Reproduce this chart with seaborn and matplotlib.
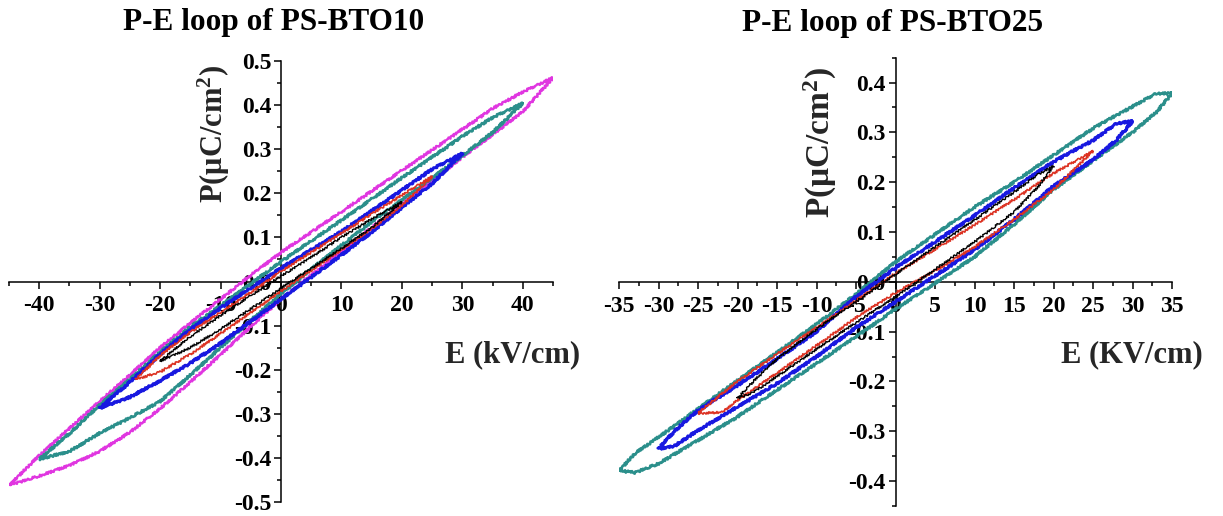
import matplotlib
matplotlib.use("Agg")
import matplotlib.pyplot as plt
import seaborn as sns
import pandas as pd
from matplotlib.ticker import MultipleLocator, FormatStrFormatter

# ---------------- data ----------------
# Left panel: PS-BTO10.  For each loop: E grid, upper branch P, lower branch P
L_MAG_E = [-45, -40, -35, -30, -25, -20, -15, -10, -5, 0, 5, 10, 15, 20, 25, 30, 35, 40, 45]
L_MAG_PU = [-0.462, -0.395, -0.333, -0.272, -0.212, -0.150, -0.094, -0.040, 0.014, 0.066,
            0.112, 0.158, 0.205, 0.252, 0.298, 0.345, 0.392, 0.430, 0.462]
L_MAG_PL = [-0.462, -0.441, -0.417, -0.385, -0.342, -0.288, -0.228, -0.166, -0.102, -0.040,
            0.014, 0.068, 0.122, 0.175, 0.228, 0.282, 0.333, 0.385, 0.462]

L_TEA_E = [-40, -35, -30, -25, -20, -15, -10, -5, 0, 5, 10, 15, 20, 25, 30, 35, 40]
L_TEA_PU = [-0.403, -0.345, -0.280, -0.222, -0.160, -0.103, -0.055, -0.005, 0.045,
            0.092, 0.139, 0.187, 0.235, 0.282, 0.329, 0.372, 0.404]
L_TEA_PL = [-0.403, -0.385, -0.344, -0.309, -0.272, -0.212, -0.150, -0.088, -0.028,
            0.028, 0.082, 0.135, 0.185, 0.235, 0.285, 0.338, 0.404]

L_BLU_E = [-30, -25, -20, -15, -10, -5, 0, 5, 10, 15, 20, 25, 30]
L_BLU_PU = [-0.287, -0.228, -0.165, -0.109, -0.060, -0.015, 0.030, 0.072, 0.113, 0.160, 0.207, 0.255, 0.290]
L_BLU_PL = [-0.287, -0.262, -0.225, -0.185, -0.140, -0.090, -0.040, 0.010, 0.060, 0.112, 0.168, 0.222, 0.290]

L_RED_E = [-24, -20, -15, -10, -5, 0, 5, 10, 15, 20, 25]
L_RED_PU = [-0.222, -0.168, -0.115, -0.070, -0.025, 0.023, 0.066, 0.109, 0.153, 0.196, 0.238]
L_RED_PL = [-0.222, -0.205, -0.165, -0.118, -0.070, -0.022, 0.025, 0.072, 0.120, 0.172, 0.238]

L_BLK_E = [-20, -15, -10, -5, 0, 5, 10, 15, 20]
L_BLK_PU = [-0.181, -0.125, -0.077, -0.032, 0.012, 0.055, 0.100, 0.142, 0.180]
L_BLK_PL = [-0.181, -0.150, -0.108, -0.062, -0.015, 0.030, 0.075, 0.122, 0.180]

# Right panel: PS-BTO25
R_TEA_E = [-35, -33, -30, -25, -20, -15, -10, -5, 0, 5, 10, 15, 20, 25, 30, 33, 35]
R_TEA_PU = [-0.379, -0.345, -0.312, -0.255, -0.198, -0.142, -0.085, -0.025, 0.040,
            0.095, 0.150, 0.200, 0.254, 0.308, 0.352, 0.378, 0.378]
R_TEA_PL = [-0.379, -0.383, -0.365, -0.318, -0.271, -0.217, -0.164, -0.110, -0.055,
            -0.003, 0.050, 0.115, 0.185, 0.243, 0.300, 0.340, 0.378]

R_BLU_E = [-30, -28, -25, -20, -15, -10, -5, 0, 5, 10, 15, 20, 25, 28, 30]
R_BLU_PU = [-0.335, -0.300, -0.258, -0.208, -0.155, -0.100, -0.030, 0.028, 0.080,
            0.133, 0.188, 0.241, 0.284, 0.318, 0.322]
R_BLU_PL = [-0.335, -0.330, -0.298, -0.251, -0.204, -0.150, -0.092, -0.040, 0.012,
            0.064, 0.125, 0.192, 0.245, 0.285, 0.322]

R_RED_E = [-25, -22, -20, -15, -10, -5, 0, 5, 10, 15, 20, 25]
R_RED_PU = [-0.264, -0.225, -0.200, -0.145, -0.092, -0.038, 0.017, 0.065, 0.114, 0.165, 0.218, 0.262]
R_RED_PL = [-0.264, -0.262, -0.238, -0.183, -0.128, -0.072, -0.022, 0.022, 0.070, 0.125, 0.185, 0.262]

R_BLK_E = [-20, -18, -15, -10, -5, 0, 5, 10, 15, 18, 20]
R_BLK_PU = [-0.234, -0.200, -0.155, -0.095, -0.040, 0.015, 0.070, 0.124, 0.180, 0.215, 0.232]
R_BLK_PL = [-0.234, -0.222, -0.190, -0.135, -0.082, -0.030, 0.025, 0.080, 0.140, 0.190, 0.232]

L_XTICKS = [-40, -30, -20, -10, 0, 10, 20, 30, 40]
L_YTICKS = [-0.5, -0.4, -0.3, -0.2, -0.1, 0.0, 0.1, 0.2, 0.3, 0.4, 0.5]
R_XTICKS = [-35, -30, -25, -20, -15, -10, -5, 0, 5, 10, 15, 20, 25, 30, 35]
R_YTICKS = [-0.4, -0.3, -0.2, -0.1, 0.0, 0.1, 0.2, 0.3, 0.4]

TITLES = ["P-E loop of PS-BTO10", "P-E loop of PS-BTO25"]
XLABELS = ["E (kV/cm)", "E (KV/cm)"]
YLABEL = "P(μC/cm$^2$)"

# ---------------- style ----------------
sns.set_theme(style="ticks")
plt.rcParams.update({
    "font.family": ["Liberation Serif", "DejaVu Serif"],
    "font.weight": "bold",
    "mathtext.fontset": "custom",
    "mathtext.rm": "Liberation Serif:bold",
    "mathtext.it": "Liberation Serif:bold",
    "mathtext.bf": "Liberation Serif:bold",
    "mathtext.default": "rm",
    "axes.unicode_minus": False,
    "axes.edgecolor": "black",
    "xtick.color": "black",
    "ytick.color": "black",
    "text.color": "black",
})

C_MAG = "#e036e0"
C_TEA = "#2b8f8b"
C_BLU = "#1818e0"
C_RED = "#dc3222"
C_BLK = "#000000"


def loop_frame(E, Pu, Pl):
    e = list(E[::-1]) + list(E[1:])
    p = list(Pu[::-1]) + list(Pl[1:])
    return pd.DataFrame({"E": e, "P": p})


fig = plt.figure(figsize=(12.23, 5.16), dpi=100)
axL = fig.add_axes([9 / 1223, 1 - 502 / 516, 544 / 1223, 441 / 516])
axR = fig.add_axes([619 / 1223, 1 - 506 / 516, 553 / 1223, 448.4 / 516])

left_loops = [
    (L_MAG_E, L_MAG_PU, L_MAG_PL, C_MAG, 1.7),
    (L_TEA_E, L_TEA_PU, L_TEA_PL, C_TEA, 1.9),
    (L_BLU_E, L_BLU_PU, L_BLU_PL, C_BLU, 2.1),
    (L_RED_E, L_RED_PU, L_RED_PL, C_RED, 1.2),
    (L_BLK_E, L_BLK_PU, L_BLK_PL, C_BLK, 1.0),
]
right_loops = [
    (R_TEA_E, R_TEA_PU, R_TEA_PL, C_TEA, 1.9),
    (R_BLU_E, R_BLU_PU, R_BLU_PL, C_BLU, 2.1),
    (R_RED_E, R_RED_PU, R_RED_PL, C_RED, 1.2),
    (R_BLK_E, R_BLK_PU, R_BLK_PL, C_BLK, 1.0),
]

for ax, loops in [(axL, left_loops), (axR, right_loops)]:
    for E, Pu, Pl, col, lw in loops:
        df = loop_frame(E, Pu, Pl)
        sns.lineplot(data=df, x="E", y="P", sort=False, estimator=None,
                     color=col, linewidth=lw, ax=ax, zorder=3)
        ln = ax.lines[-1]
        ln.set_sketch_params(scale=1.1, length=2.5, randomness=2)

# axes cosmetics
cfg = [
    (axL, (-45, 45), (-0.5, 0.5), L_XTICKS, L_YTICKS, 5, 0.05),
    (axR, (-35, 35), (-0.45, 0.45), R_XTICKS, R_YTICKS, 2.5, 0.05),
]
for ax, xl, yl, xt, yt, xminor, yminor in cfg:
    ax.set_xlim(*xl)
    ax.set_ylim(*yl)
    ax.spines["left"].set_position(("data", 0))
    ax.spines["bottom"].set_position(("data", 0))
    ax.spines["top"].set_visible(False)
    ax.spines["right"].set_visible(False)
    for s in ("left", "bottom"):
        ax.spines[s].set_linewidth(1.1)
        ax.spines[s].set_zorder(2)
    ax.set_xticks(xt)
    ax.set_yticks(yt)
    ax.xaxis.set_minor_locator(MultipleLocator(xminor))
    ax.yaxis.set_minor_locator(MultipleLocator(yminor))
    ax.xaxis.set_major_formatter(FormatStrFormatter("%d"))
    ax.yaxis.set_major_formatter(FormatStrFormatter("%.1f"))
    ax.tick_params(axis="both", which="both", direction="out", width=1.1,
                   bottom=True, left=True, top=False, right=False)
    ax.tick_params(axis="both", which="major", length=5, labelsize=17)
    ax.tick_params(axis="both", which="minor", length=2.6)
    ax.tick_params(axis="x", which="major", pad=5)
    ax.tick_params(axis="y", which="major", pad=2)
    for lab in ax.get_xticklabels() + ax.get_yticklabels():
        lab.set_fontweight("bold")
    ax.set_xlabel("")
    ax.set_ylabel("")
    ax.patch.set_alpha(0)

# titles
axL.text(0.487, 1.088, TITLES[0], transform=axL.transAxes, ha="center", va="center",
         fontsize=22.5, fontweight="bold")
axR.text(0.494, 1.075, TITLES[1], transform=axR.transAxes, ha="center", va="center",
         fontsize=22.5, fontweight="bold")

# axis labels
axL.set_xlabel(XLABELS[0], fontsize=22, fontweight="bold", va="center", ha="center")
axL.xaxis.set_label_coords(0.926, 0.333)
axR.set_xlabel(XLABELS[1], fontsize=22, fontweight="bold", va="center", ha="center")
axR.xaxis.set_label_coords(0.928, 0.337)

axL.set_ylabel(YLABEL, fontsize=22, fontweight="bold", va="center", ha="center")
axL.yaxis.set_label_coords(0.376, 0.834)
axR.set_ylabel(YLABEL, fontsize=24, fontweight="bold", va="center", ha="center")
axR.yaxis.set_label_coords(0.365, 0.811)

fig.savefig("out.png", dpi=100, facecolor="white")
